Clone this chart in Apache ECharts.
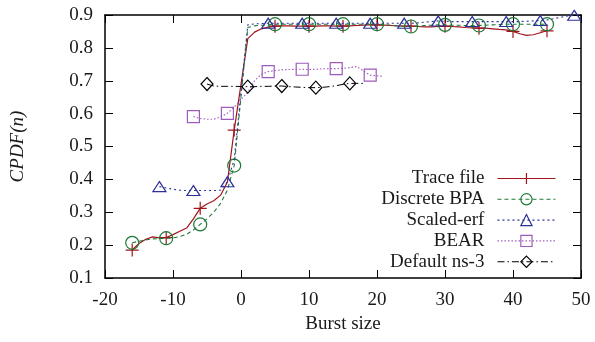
<!DOCTYPE html>
<html>
<head>
<meta charset="utf-8">
<script src="https://cdn.jsdelivr.net/npm/echarts@6/dist/echarts.min.js"></script>
<style>
  html, body { margin: 0; padding: 0; background: #fff; }
  #chart { width: 595px; height: 342px; }
</style>
</head>
<body>
<div id="chart"></div>
<script>
// Burst sizes run over integers; a burst size of zero is never recorded.
function burstSizes(from, to) {
  const out = [];
  for (let n = from; n <= to; n++) if (n !== 0) out.push(n);
  return out;
}

const seriesNames = ['Trace file', 'Discrete BPA', 'Scaled-erf', 'BEAR', 'Default ns-3'];

// Trace file: burst sizes -16..45
const traceSizes = burstSizes(-16, 45);
const traceCpdf = [
  0.185, 0.205, 0.218, 0.225, 0.222, 0.223, 0.232, 0.242, 0.252, 0.280,
  0.312, 0.325, 0.335, 0.352, 0.392, 0.550,
  0.828, 0.848, 0.858, 0.863, 0.866, 0.867, 0.867, 0.866, 0.866, 0.866,
  0.866, 0.867, 0.867, 0.866, 0.866, 0.867, 0.868, 0.869, 0.870, 0.870,
  0.869, 0.868, 0.867, 0.866, 0.866, 0.865, 0.864, 0.864, 0.865, 0.866,
  0.865, 0.864, 0.862, 0.861, 0.860, 0.860, 0.858, 0.856, 0.855, 0.850,
  0.843, 0.838, 0.840, 0.846, 0.852
];

// Discrete BPA: burst sizes -16..45
const bpaSizes = burstSizes(-16, 45);
const bpaCpdf = [
  0.207, 0.212, 0.216, 0.219, 0.220, 0.221, 0.222, 0.226, 0.233, 0.246,
  0.263, 0.280, 0.300, 0.327, 0.367, 0.442,
  0.862, 0.867, 0.869, 0.870, 0.872, 0.872, 0.872, 0.872, 0.872, 0.872,
  0.872, 0.872, 0.872, 0.872, 0.872, 0.872, 0.872, 0.872, 0.872, 0.872,
  0.871, 0.869, 0.867, 0.866, 0.865, 0.866, 0.868, 0.869, 0.870, 0.870,
  0.869, 0.869, 0.868, 0.868, 0.868, 0.869, 0.870, 0.871, 0.872, 0.872,
  0.872, 0.872, 0.872, 0.872, 0.872
];

// Scaled-erf: burst sizes -12..49
const erfSizes = burstSizes(-12, 49);
const erfCpdf = [
  0.378, 0.374, 0.370, 0.367, 0.366, 0.366, 0.366, 0.366, 0.366, 0.367,
  0.393, 0.460,
  0.870, 0.873, 0.874, 0.875, 0.875, 0.875, 0.875, 0.875, 0.875, 0.875,
  0.875, 0.875, 0.875, 0.875, 0.875, 0.875, 0.875, 0.875, 0.875, 0.875,
  0.875, 0.875, 0.875, 0.875, 0.875, 0.876, 0.878, 0.880, 0.882, 0.881,
  0.880, 0.880, 0.880, 0.880, 0.880, 0.880, 0.880, 0.880, 0.880, 0.880,
  0.880, 0.881, 0.882, 0.883, 0.885, 0.889, 0.893, 0.897, 0.899
];

// BEAR: burst sizes -7..21
const bearSizes = burstSizes(-7, 21);
const bearCpdf = [
  0.591, 0.585, 0.583, 0.583, 0.590, 0.601, 0.620,
  0.665, 0.700, 0.720, 0.728, 0.731, 0.733, 0.734, 0.735, 0.735, 0.734,
  0.735, 0.736, 0.737, 0.737, 0.738, 0.740, 0.743, 0.730, 0.717, 0.715,
  0.713
];

// Default ns-3: burst sizes -5..18
const ns3Sizes = burstSizes(-5, 18);
const ns3Cpdf = [
  0.690, 0.684, 0.683, 0.683, 0.683,
  0.682, 0.682, 0.683, 0.683, 0.684, 0.684, 0.682, 0.681, 0.680, 0.679,
  0.679, 0.680, 0.682, 0.685, 0.689, 0.692, 0.692, 0.692
];

const xTicks = { min: -20, max: 50, step: 10 };
const yTicks = { min: 0.1, max: 0.9, step: 0.1 };

const FONT = 'Liberation Serif';
const INK = '#1a1a1a';

// a marker is drawn on every fifth sample
function withMarkers(xs, ys) {
  return xs.map((x, i) => i % 5 === 0 ? { value: [x, ys[i]] } : { value: [x, ys[i]], symbol: 'none' });
}

const styles = [
  { color: '#a0141e', dash: 'solid', width: 1.2, symbol: 'path://M0,6H12M6,0V12', size: 13 },
  { color: '#1d7a36', dash: [4, 3], width: 1.1, symbol: 'circle', size: 13 },
  { color: '#2b3196', dash: [2, 3], width: 1.1, symbol: 'triangle', size: [13, 10] },
  { color: '#9d5bbd', dash: [1.5, 2], width: 1.1, symbol: 'rect', size: 12 },
  { color: '#000000', dash: [7, 3, 1.5, 3], width: 1.0, symbol: 'diamond', size: [12, 13] }
];

const dataSets = [
  [traceSizes, traceCpdf],
  [bpaSizes, bpaCpdf],
  [erfSizes, erfCpdf],
  [bearSizes, bearCpdf],
  [ns3Sizes, ns3Cpdf]
];

const series = seriesNames.map((name, k) => {
  const s = styles[k];
  return {
    name,
    type: 'line',
    xAxisIndex: 0,
    yAxisIndex: 0,
    data: withMarkers(dataSets[k][0], dataSets[k][1]),
    showAllSymbol: true,
    symbol: s.symbol,
    symbolSize: s.size,
    lineStyle: { color: s.color, width: s.width, type: s.dash },
    itemStyle: { color: 'rgba(0,0,0,0)', borderColor: s.color, borderWidth: 1.2 },
    emphasis: { disabled: true },
    silent: true,
    z: 2 + k
  };
});

const axisLine = { show: true, onZero: false, lineStyle: { color: '#000', width: 1.5 } };
const axisTick = { show: true, inside: true, length: 8, lineStyle: { color: '#000', width: 1 } };
const labelStyle = { fontFamily: FONT, fontSize: 19, color: INK, fontWeight: 'normal' };

const option = {
  animation: false,
  backgroundColor: '#fff',
  grid: { left: 104, right: 14, top: 15, bottom: 64, containLabel: false },
  xAxis: [
    {
      type: 'value', position: 'bottom',
      min: xTicks.min, max: xTicks.max, interval: xTicks.step,
      axisLine, axisTick, splitLine: { show: false },
      axisLabel: Object.assign({ margin: 13 }, labelStyle),
      name: 'Burst size', nameLocation: 'middle', nameGap: 36,
      nameTextStyle: labelStyle
    },
    {
      type: 'value', position: 'top',
      min: xTicks.min, max: xTicks.max, interval: xTicks.step,
      axisLine, axisTick, splitLine: { show: false }, axisLabel: { show: false }
    }
  ],
  yAxis: [
    {
      type: 'value', position: 'left',
      min: yTicks.min, max: yTicks.max, interval: yTicks.step,
      axisLine, axisTick, splitLine: { show: false },
      axisLabel: Object.assign({ margin: 12, formatter: v => v.toFixed(1) }, labelStyle),
      name: 'CPDF(n)', nameLocation: 'middle', nameGap: 78, nameRotate: 90,
      nameTextStyle: Object.assign({}, labelStyle, { fontStyle: 'italic', fontWeight: 'normal' })
    },
    {
      type: 'value', position: 'right',
      min: yTicks.min, max: yTicks.max, interval: yTicks.step,
      axisLine, axisTick, splitLine: { show: false }, axisLabel: { show: false }
    }
  ],
  legend: {
    orient: 'vertical',
    align: 'right',
    right: 34,
    top: 164,
    itemWidth: 58,
    itemHeight: 14,
    itemGap: 1.8,
    selectedMode: false,
    data: seriesNames,
    textStyle: { fontFamily: FONT, fontSize: 19, color: INK, padding: [0, 8, 0, 0] },
    lineStyle: { width: 1.1 },
    itemStyle: { borderWidth: 1.2 }
  },
  series
};

const chart = echarts.init(document.getElementById('chart'), null, { renderer: 'canvas' });
chart.setOption(option);
</script>
</body>
</html>
